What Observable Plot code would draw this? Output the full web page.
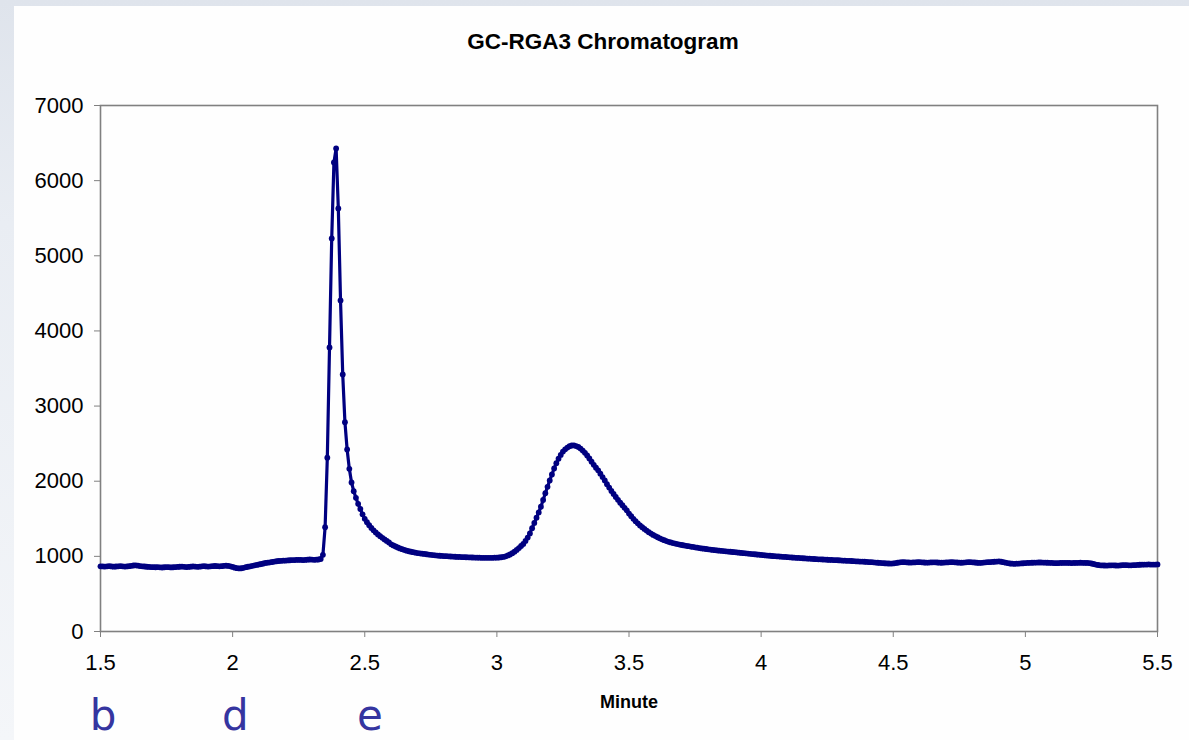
<!DOCTYPE html>
<html>
<head>
<meta charset="utf-8">
<script src="https://cdn.jsdelivr.net/npm/d3@7"></script>
<script src="https://cdn.jsdelivr.net/npm/@observablehq/plot@0.6"></script>
<style>
  html, body { margin: 0; padding: 0; }
  body {
    width: 1189px; height: 740px; overflow: hidden; position: relative;
    background: linear-gradient(180deg, #dfe4ec 0%, #e9edf3 30%, #f4f6f9 100%);
  }
  #panel { position: absolute; left: 14px; top: 6px; right: 0; bottom: 0; background: #fefefe; }
  #chart { position: absolute; left: 0; top: 0; }
</style>
</head>
<body>
<div id="panel"></div>
<div id="chart"></div>
<script>
// ---- Chart texts ----
const title = "GC-RGA3 Chromatogram";
const xLabel = "Minute";

// ---- Axis ticks ----
const xTicks = [1.5, 2, 2.5, 3, 3.5, 4, 4.5, 5, 5.5];
const yTicks = [0, 1000, 2000, 3000, 4000, 5000, 6000, 7000];

// ---- Slide annotations under the x axis ----
const noteLetters = ["b", "d", "e"];
const noteMinutes = [1.51, 2.01, 2.52];

// ---- Detector sampling: first sample time and samples per minute ----
const startMinute = 1.5;
const samplesPerMinute = 120;

// ---- Detector signal, one value per sample ----
const signal = [
  // 1.5 - 1.6
  868, 866, 864, 867, 869, 866, 863, 865, 868, 870, 867, 864,
  // 1.6 - 1.7
  866, 870, 874, 878, 880, 876, 871, 868, 865, 862, 860, 858,
  // 1.7 - 1.8
  856, 855, 857, 854, 852, 855, 858, 856, 853, 855, 858, 860,
  // 1.8 - 1.9
  862, 864, 861, 858, 860, 863, 866, 864, 861, 863, 867, 869,
  // 1.9 - 2.0
  866, 864, 867, 870, 872, 869, 867, 870, 874, 876, 873, 868,
  // 2.0 - 2.1
  860, 850, 843, 840, 842, 848, 856, 862, 868, 874, 880, 886,
  // 2.1 - 2.2
  892, 898, 905, 912, 916, 920, 925, 930, 935, 938, 940, 942,
  // 2.2 - 2.3
  944, 946, 948, 950, 951, 953, 954, 952, 950, 953, 956, 958,
  // 2.3 - 2.4
  957, 954, 956, 958, 965, 1021, 1388, 2312, 3780, 5231, 6242, 6428,
  // 2.4 - 2.5
  5630, 4406, 3420, 2786, 2422, 2165, 1983, 1867, 1779, 1699, 1630, 1560,
  // 2.5 - 2.6
  1500, 1455, 1415, 1378, 1346, 1318, 1292, 1268, 1246, 1225, 1205, 1185,
  // 2.6 - 2.7
  1160, 1145, 1131, 1118, 1106, 1095, 1085, 1076, 1068, 1061, 1055, 1049,
  // 2.7 - 2.8
  1044, 1040, 1036, 1032, 1028, 1024, 1020, 1017, 1014, 1011, 1008, 1006,
  // 2.8 - 2.9
  1004, 1002, 1000, 998, 997, 995, 993, 992, 990, 989, 988, 987,
  // 2.9 - 3.0
  986, 985, 984, 983, 982, 981, 981, 980, 980, 980, 981, 982,
  // 3.0 - 3.1
  983, 985, 988, 992, 1000, 1012, 1025, 1042, 1062, 1085, 1110, 1138,
  // 3.1 - 3.2
  1165, 1205, 1250, 1305, 1375, 1445, 1515, 1585, 1660, 1750, 1840, 1925,
  // 3.2 - 3.3
  2010, 2090, 2170, 2240, 2300, 2350, 2395, 2425, 2448, 2465, 2475, 2476,
  // 3.3 - 3.4
  2468, 2455, 2435, 2408, 2378, 2342, 2302, 2260, 2218, 2180, 2145, 2100,
  // 3.4 - 3.5
  2055, 2010, 1960, 1915, 1870, 1830, 1790, 1752, 1715, 1680, 1645, 1612,
  // 3.5 - 3.6
  1570, 1535, 1500, 1468, 1440, 1412, 1388, 1365, 1343, 1322, 1303, 1285,
  // 3.6 - 3.7
  1270, 1254, 1240, 1227, 1215, 1204, 1194, 1185, 1177, 1170, 1163, 1157,
  // 3.7 - 3.8
  1151, 1145, 1140, 1135, 1130, 1125, 1120, 1115, 1110, 1106, 1102, 1098,
  // 3.8 - 3.9
  1094, 1090, 1086, 1082, 1079, 1076, 1073, 1070, 1067, 1064, 1061, 1058,
  // 3.9 - 4.0
  1055, 1052, 1049, 1046, 1043, 1040, 1037, 1034, 1031, 1028, 1025, 1022,
  // 4.0 - 4.1
  1019, 1016, 1013, 1010, 1008, 1005, 1003, 1001, 999, 996, 994, 992,
  // 4.1 - 4.2
  989, 987, 985, 983, 981, 979, 977, 975, 973, 971, 969, 967,
  // 4.2 - 4.3
  965, 963, 961, 960, 958, 957, 955, 953, 952, 950, 949, 948,
  // 4.3 - 4.4
  946, 944, 943, 941, 940, 938, 936, 934, 932, 931, 930, 928,
  // 4.4 - 4.5
  926, 924, 922, 920, 917, 915, 913, 910, 908, 906, 905, 904,
  // 4.5 - 4.6
  906, 910, 915, 920, 922, 923, 921, 918, 917, 919, 921, 922,
  // 4.6 - 4.7
  922, 920, 918, 916, 917, 919, 921, 920, 918, 916, 915, 917,
  // 4.7 - 4.8
  919, 921, 923, 922, 920, 918, 916, 915, 917, 920, 922, 923,
  // 4.8 - 4.9
  921, 918, 915, 913, 914, 917, 920, 922, 924, 926, 928, 930,
  // 4.9 - 5.0
  932, 928, 922, 916, 910, 905, 902, 901, 902, 904, 906, 908,
  // 5.0 - 5.1
  910, 912, 914, 915, 916, 917, 918, 918, 917, 916, 915, 914,
  // 5.1 - 5.2
  912, 910, 909, 910, 912, 913, 914, 913, 912, 911, 912, 913,
  // 5.2 - 5.3
  914, 915, 914, 913, 912, 910, 905, 898, 890, 885, 881, 879,
  // 5.3 - 5.4
  878, 877, 879, 881, 880, 878, 877, 879, 882, 884, 883, 881,
  // 5.4 - 5.5
  880, 882, 884, 886, 888, 889, 890, 891, 892, 891, 890, 891,
  892
];

const data = signal.map((v, i) => ({minute: startMinute + i / samplesPerMinute, value: v}));
const notes = noteLetters.map((t, i) => ({letter: t, minute: noteMinutes[i]}));

const lineColor = "#000080";
const axisGray = "#808080";

const chart = Plot.plot({
  width: 1189,
  height: 740,
  marginLeft: 100,
  marginRight: 32,
  marginTop: 105,
  marginBottom: 109,
  style: {background: "transparent", fontFamily: "'Liberation Sans', Arial, sans-serif", fontSize: "22px", color: "black", overflow: "visible"},
  x: {domain: [1.5, 5.5]},
  y: {domain: [0, 7000]},
  marks: [
    Plot.frame({stroke: axisGray, strokeWidth: 1.6}),
    Plot.axisY({ticks: yTicks, tickSize: 6, tickPadding: 11, stroke: axisGray, fill: "black", tickFormat: d => String(d), label: null, fontSize: 22}),
    Plot.axisX({ticks: xTicks, tickSize: 6, tickPadding: 17, stroke: axisGray, fill: "black", tickFormat: d => String(d), label: null, fontSize: 22}),
    Plot.line(data, {x: "minute", y: "value", stroke: lineColor, strokeWidth: 3.2, curve: "linear"}),
    Plot.dot(data, {x: "minute", y: "value", r: 2.9, fill: lineColor, stroke: "none"}),
    Plot.text([title], {frameAnchor: "top", dx: -26, dy: -72, fontWeight: "bold", fontSize: 22.5, fill: "black"}),
    Plot.text([xLabel], {frameAnchor: "bottom", dy: 76, fontWeight: "bold", fontSize: 18, fill: "black"}),
    Plot.text(notes, {x: "minute", text: "letter", frameAnchor: "bottom", dy: 98, fontSize: 42, fill: "#3535a0", fontFamily: "'DejaVu Sans', sans-serif"})
  ]
});
document.getElementById("chart").appendChild(chart);
</script>
</body>
</html>
